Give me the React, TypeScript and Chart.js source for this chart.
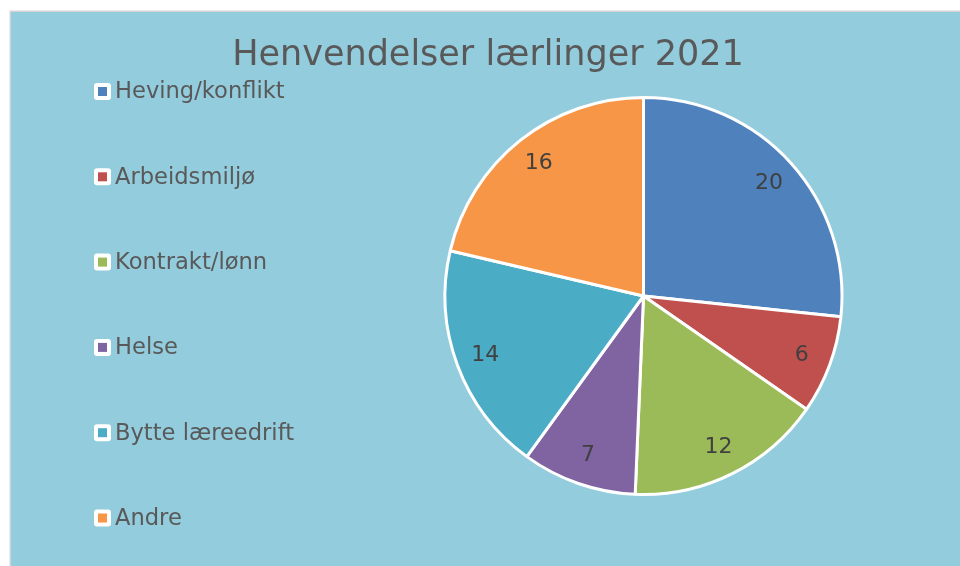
import { useEffect, useRef } from 'react';
import { Chart, registerables } from 'chart.js';
Chart.register(...registerables);

const categories = ['Heving/konflikt', 'Arbeidsmiljø', 'Kontrakt/lønn', 'Helse', 'Bytte læreedrift', 'Andre'];
const values = [20, 6, 12, 7, 14, 16];
const colors = ['#4F81BD', '#C0504D', '#9BBB59', '#8064A2', '#4BACC6', '#F79646'];
const chartTitle = 'Henvendelser lærlinger 2021';

const FONT = '"DejaVu Sans", sans-serif';

const backgroundPlugin = {
  id: 'bg',
  beforeDraw(chart: any) {
    const { ctx, width, height } = chart;
    ctx.save();
    ctx.fillStyle = '#ffffff';
    ctx.fillRect(0, 0, width, height);
    ctx.fillStyle = '#D4D4D4';
    ctx.fillRect(9.5, 10.5, width, height);
    ctx.fillStyle = '#93CCDD';
    ctx.fillRect(11, 12, width, height);
    ctx.restore();
  },
};

const overlayPlugin = {
  id: 'overlay',
  afterDatasetsDraw(chart: any) {
    const { ctx } = chart;
    const meta = chart.getDatasetMeta(0);
    ctx.save();
    ctx.fillStyle = '#404040';
    ctx.font = `22px ${FONT}`;
    ctx.textAlign = 'center';
    ctx.textBaseline = 'middle';
    meta.data.forEach((arc: any, i: number) => {
      const p = arc.getProps(['x', 'y', 'startAngle', 'endAngle', 'outerRadius'], true);
      const mid = (p.startAngle + p.endAngle) / 2;
      const r = p.outerRadius * 0.85;
      ctx.fillText(String(chart.data.datasets[0].data[i]), p.x + Math.cos(mid) * r, p.y + Math.sin(mid) * r);
    });
    ctx.restore();
  },
  afterDraw(chart: any) {
    const { ctx } = chart;
    ctx.save();
    // title
    ctx.fillStyle = '#595959';
    ctx.font = `35px ${FONT}`;
    ctx.textAlign = 'center';
    ctx.textBaseline = 'middle';
    ctx.fillText(chartTitle, 488, 56);
    // legend
    ctx.font = `22.6px ${FONT}`;
    ctx.textAlign = 'left';
    const labels = chart.data.labels as string[];
    const bg = chart.data.datasets[0].backgroundColor as string[];
    labels.forEach((lab, i) => {
      const cy = 91.5 + i * 85.3;
      ctx.fillStyle = '#ffffff';
      ctx.beginPath();
      (ctx as any).roundRect(94, cy - 8.5, 17, 17, 3);
      ctx.fill();
      ctx.fillStyle = bg[i];
      ctx.fillRect(98, cy - 4.5, 9, 9);
      ctx.fillStyle = '#595959';
      ctx.fillText(lab, 115, cy + 1);
    });
    ctx.restore();
  },
};

export default function App() {
  const ref = useRef<HTMLCanvasElement>(null);
  useEffect(() => {
    if (!ref.current) return;
    const chart = new Chart(ref.current, {
      type: 'pie',
      data: {
        labels: categories,
        datasets: [
          {
            data: values,
            backgroundColor: colors,
            borderColor: '#ffffff',
            borderWidth: 3,
          },
        ],
      },
      options: {
        animation: false,
        responsive: false,
        devicePixelRatio: 1,
        layout: { padding: { left: 443.5, right: 116.5, top: 96, bottom: 70 } },
        plugins: {
          legend: { display: false },
          title: { display: false },
          tooltip: { enabled: false },
        },
      },
      plugins: [backgroundPlugin, overlayPlugin],
    });
    return () => chart.destroy();
  }, []);
  return (
    <div style={{ position: 'fixed', left: 0, top: 0, width: 960, height: 566 }}>
      <canvas ref={ref} width={960} height={566} style={{ display: 'block' }} />
    </div>
  );
}
